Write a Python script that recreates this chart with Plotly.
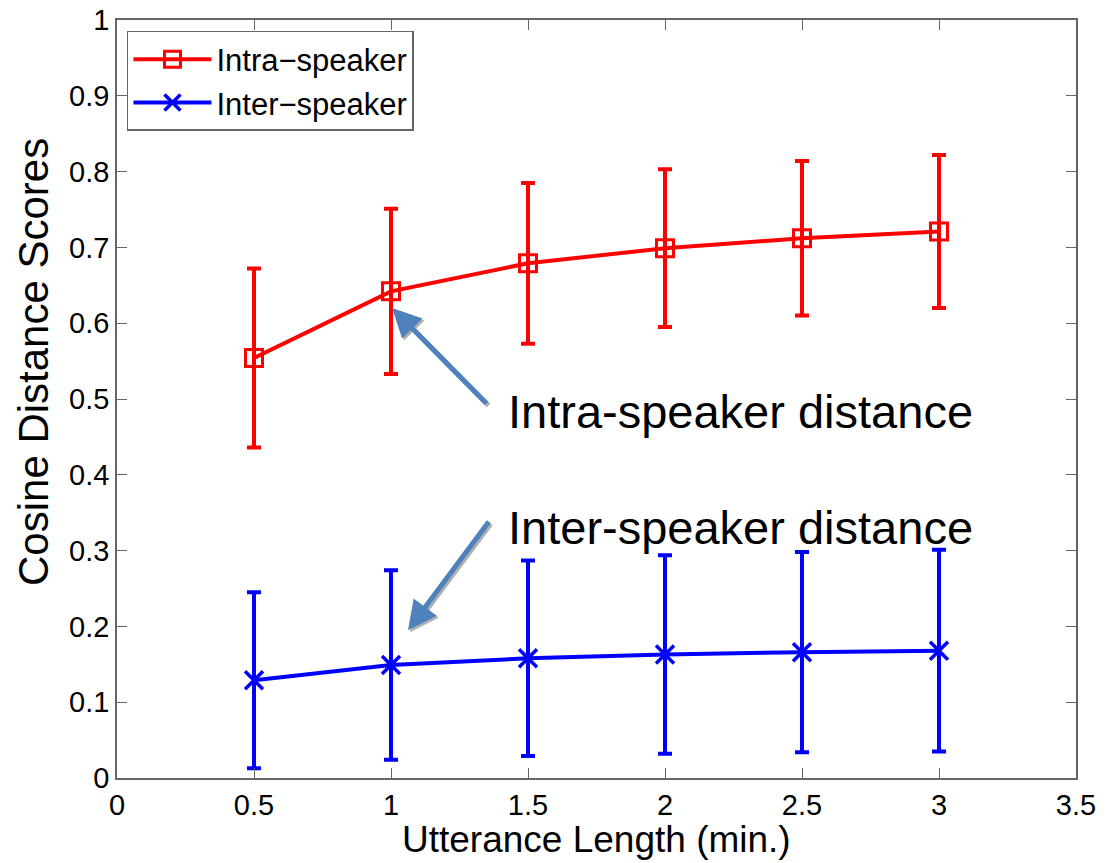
import plotly.graph_objects as go

# Data
lengths = [0.5, 1.0, 1.5, 2.0, 2.5, 3.0]
intra_mean = [0.554, 0.642, 0.679, 0.699, 0.712, 0.721]
intra_std = [0.118, 0.109, 0.106, 0.104, 0.102, 0.101]
inter_mean = [0.129, 0.149, 0.158, 0.163, 0.166, 0.168]
inter_std = [0.116, 0.125, 0.129, 0.131, 0.132, 0.133]
x_ticks = [0, 0.5, 1, 1.5, 2, 2.5, 3, 3.5]
x_tick_text = ["0", "0.5", "1", "1.5", "2", "2.5", "3", "3.5"]
y_ticks = [0, 0.1, 0.2, 0.3, 0.4, 0.5, 0.6, 0.7, 0.8, 0.9, 1]
y_tick_text = ["0", "0.1", "0.2", "0.3", "0.4", "0.5", "0.6", "0.7", "0.8", "0.9", "1"]

FONT = "Liberation Sans, Arial, Helvetica, sans-serif"

fig = go.Figure()
fig.add_trace(go.Scatter(
    x=lengths, y=intra_mean, name="Intra\u2212speaker", mode="lines+markers",
    line=dict(color="#FF0000", width=4),
    marker=dict(symbol="square-open", size=17, color="#FF0000", line=dict(width=3, color="#FF0000")),
    error_y=dict(type="data", array=intra_std, visible=True, color="#FF0000", thickness=4, width=7),
))
fig.add_trace(go.Scatter(
    x=lengths, y=inter_mean, name="Inter\u2212speaker", mode="lines+markers",
    line=dict(color="#0000FF", width=4),
    marker=dict(symbol="x-thin", size=18, color="#0000FF", line=dict(width=3.5, color="#0000FF")),
    error_y=dict(type="data", array=inter_std, visible=True, color="#0000FF", thickness=4, width=7),
))

arrow_color = "#4F81BD"
shadow = "#B0B0B0"
arrows = [
    dict(x=1.004, y=0.620, ax=1.354, ay=0.492),
    dict(x=1.062, y=0.195, ax=1.361, ay=0.340),
]
anns = []
for a in arrows:
    for col, dx, dy in [(shadow, 2, -2), (arrow_color, 0, 0)]:
        anns.append(dict(
            x=a["x"], y=a["y"], ax=a["ax"], ay=a["ay"], xref="x", yref="y", axref="x", ayref="y",
            text="", showarrow=True, arrowhead=2, arrowsize=1.15, arrowwidth=5,
            arrowcolor=col, xshift=dx, yshift=dy, standoff=0, startstandoff=0,
        ))
anns.append(dict(x=1.42, y=0.484, xref="x", yref="y", text="Intra-speaker distance",
                 showarrow=False, xanchor="left", yanchor="middle",
                 font=dict(family=FONT, size=47, color="black")))
anns.append(dict(x=1.42, y=0.331, xref="x", yref="y", text="Inter-speaker distance",
                 showarrow=False, xanchor="left", yanchor="middle",
                 font=dict(family=FONT, size=47, color="black")))
# axis titles (screen positions, converted to paper coords below)
anns.append(dict(x=596, y=839, xref="paper", yref="paper", text="Utterance Length (min.)",
                 showarrow=False, xanchor="center", yanchor="middle",
                 font=dict(family=FONT, size=37, color="black")))
anns.append(dict(x=33, y=362, xref="paper", yref="paper", text="Cosine Distance Scores",
                 showarrow=False, xanchor="center", yanchor="middle", textangle=-90,
                 font=dict(family=FONT, size=42, color="black")))

# page has an 8px body margin; plot area on screen: x 117..1076, y 20..778
OFF = 8
W, H = 1112 - OFF, 863 - OFF
L, T = 117 - OFF, 20 - OFF
R = W - (1076 - OFF)
B = H - (778 - OFF)
PW, PH = W - L - R, H - T - B
for a in anns[-2:]:
    a["x"] = (a["x"] - 117) / PW
    a["y"] = (778 - a["y"]) / PH

axis_common = dict(
    showgrid=False, zeroline=False, showline=True, linecolor="#666666", linewidth=1.5,
    mirror="ticks", ticks="inside", ticklen=10, tickwidth=1.2, tickcolor="#666666",
    tickfont=dict(family=FONT, size=29, color="black"), automargin=False,
    ticklabeloverflow="allow",
)

fig.update_layout(
    width=W, height=H,
    margin=dict(l=L, r=R, t=T, b=B),
    paper_bgcolor="white", plot_bgcolor="white",
    font=dict(family=FONT, color="black"),
    xaxis=dict(range=[0, 3.5], tickvals=x_ticks, ticktext=x_tick_text, **axis_common),
    yaxis=dict(range=[0, 1], tickvals=y_ticks, ticktext=y_tick_text, **axis_common),
    legend=dict(x=0.0104, y=0.9855, xanchor="left", yanchor="top",
                bgcolor="white", bordercolor="#666666", borderwidth=1.5,
                font=dict(family=FONT, size=31, color="black"), tracegroupgap=0,
                itemwidth=78),
    annotations=anns,
    showlegend=True,
)

fig.write_html("out.html")
